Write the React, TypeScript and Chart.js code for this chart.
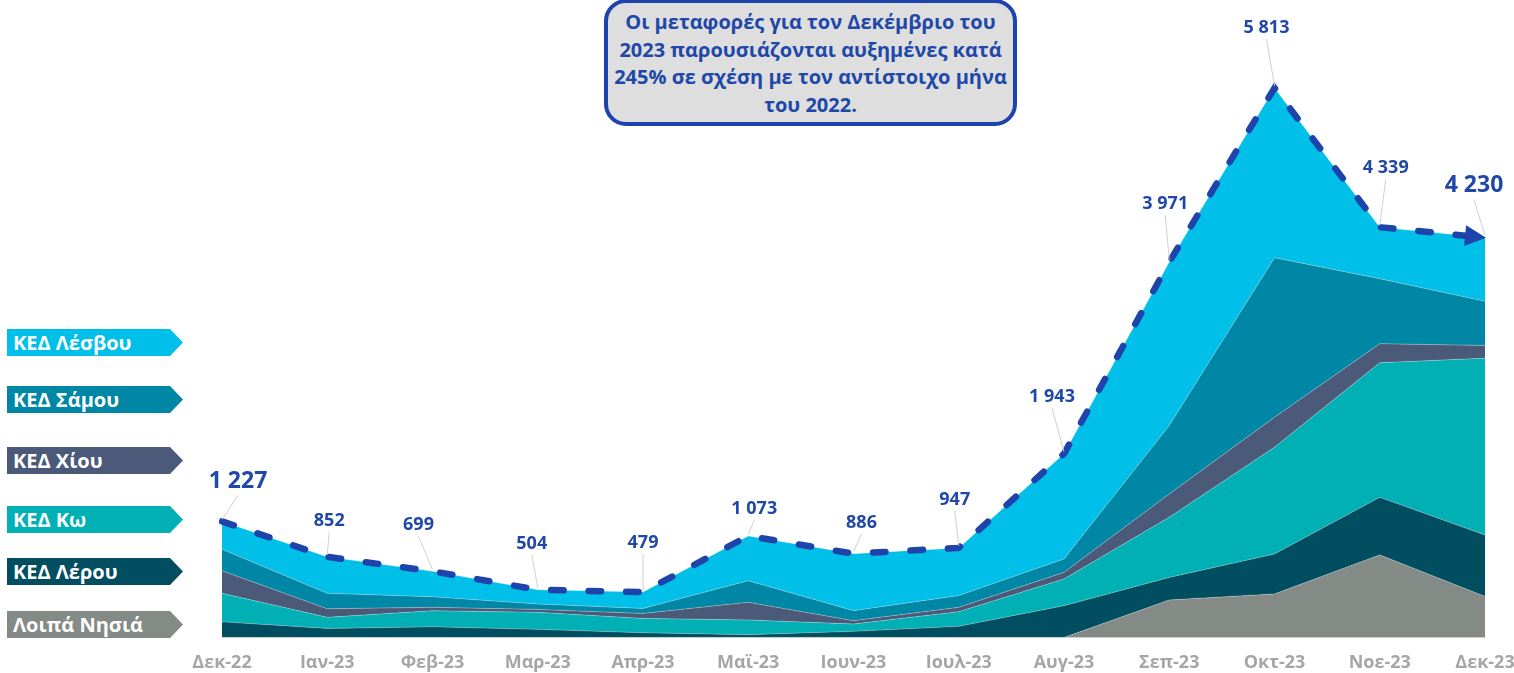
import React, { useEffect, useRef } from "react";
import { Chart, registerables } from "chart.js";
Chart.register(...registerables);

const months = ["Δεκ-22", "Ιαν-23", "Φεβ-23", "Μαρ-23", "Απρ-23", "Μαϊ-23", "Ιουν-23", "Ιουλ-23", "Αυγ-23", "Σεπ-23", "Οκτ-23", "Νοε-23", "Δεκ-23"];
const loipa = [0, 0, 0, 0, 0, 0, 0, 0, 0, 396, 460, 873, 434];
const lerou = [165, 95, 112, 85, 49, 29, 64, 117, 336, 239, 423, 609, 650];
const ko = [301, 117, 170, 180, 152, 155, 78, 155, 282, 636, 1129, 1424, 1870];
const chiou = [239, 91, 36, 31, 53, 187, 35, 46, 70, 247, 318, 201, 135];
const samou = [227, 163, 112, 57, 53, 229, 106, 124, 142, 724, 1687, 688, 466];
const lesvou = [295, 386, 269, 151, 172, 473, 603, 505, 1113, 1729, 1796, 544, 675];
const totals = [1227, 852, 699, 504, 479, 1073, 886, 947, 1943, 3971, 5813, 4339, 4230];

const seriesNames = ["Λοιπά Νησιά", "ΚΕΔ Λέρου", "ΚΕΔ Κω", "ΚΕΔ Χίου", "ΚΕΔ Σάμου", "ΚΕΔ Λέσβου"];
const seriesData = [loipa, lerou, ko, chiou, samou, lesvou];
const seriesColors = ["#848a85", "#004e60", "#00b0b4", "#4a5a78", "#0087a5", "#00bfe8"];

// legend tag layout (top -> bottom order)
const legendOrder = [5, 4, 3, 2, 1, 0];
const legendTops = [329, 386, 447, 506, 558, 611];

// label offsets (text centre relative to point), and big-label flags
const labelDx = [16, 2, -14, -6, 0, 6, 8, -4, -12, -4, -8, 6, -11];
const labelDy = [-40, -36, -46, -46, -49, -27, -31, -48, -57, -58, -60, -59, -52];
const bigLabel = [true, false, false, false, false, false, false, false, false, false, false, false, true];

const BLUE = "#1e44ab";
const FONT = "'Open Sans', sans-serif";

const fmt = (v: number) => String(v).replace(/\B(?=(\d{3})+(?!\d))/g, " ");

const totalsPlugin = {
  id: "totalsLabels",
  afterDatasetsDraw(chart: any) {
    const ctx = chart.ctx;
    const meta = chart.getDatasetMeta(6);
    const pts = meta.data;
    ctx.save();
    const n = pts.length;
    const a = pts[n - 2], b = pts[n - 1];
    const ang = Math.atan2(b.y - a.y, b.x - a.x);
    ctx.translate(b.x, b.y);
    ctx.rotate(ang);
    ctx.beginPath();
    ctx.moveTo(1, 0);
    ctx.lineTo(-20, -10.5);
    ctx.lineTo(-20, 10.5);
    ctx.closePath();
    ctx.fillStyle = BLUE;
    ctx.fill();
    ctx.restore();

    ctx.save();
    ctx.textAlign = "center";
    ctx.textBaseline = "middle";
    pts.forEach((p: any, i: number) => {
      const tx = p.x + labelDx[i];
      const ty = p.y + labelDy[i];
      const half = bigLabel[i] ? 14 : 11;
      ctx.strokeStyle = "#d0d0d0";
      ctx.lineWidth = 1;
      ctx.beginPath();
      ctx.moveTo(tx, ty + half);
      ctx.lineTo(p.x, p.y - 2);
      ctx.stroke();
      ctx.fillStyle = "#2048a8";
      ctx.font = `bold ${bigLabel[i] ? 23 : 18}px ${FONT}`;
      ctx.fillText(fmt(totals[i]), tx, ty);
    });
    ctx.restore();
  },
};

export default function App() {
  const ref = useRef<HTMLCanvasElement>(null);
  useEffect(() => {
    document.body.style.margin = "0";
    const datasets: any[] = seriesData.map((d, i) => ({
      label: seriesNames[i],
      data: d,
      backgroundColor: seriesColors[i],
      borderColor: "rgba(255,255,255,0.35)",
      borderWidth: 0.8,
      pointRadius: 0,
      tension: 0,
      fill: i === 0 ? "origin" : "-1",
      yAxisID: "y",
      order: 1,
    }));
    datasets.push({
      label: "Σύνολο",
      data: totals,
      borderColor: BLUE,
      borderWidth: 6.5,
      borderDash: [12.5, 25],
      borderCapStyle: "round",
      pointRadius: 0,
      tension: 0,
      fill: false,
      yAxisID: "y2",
      order: -1,
    });
    const chart = new Chart(ref.current!, {
      type: "line",
      data: { labels: months, datasets },
      options: {
        animation: false,
        responsive: false,
        devicePixelRatio: 1,
        layout: { padding: { left: 222, right: 70, top: 23, bottom: 0 } },
        plugins: { legend: { display: false }, tooltip: { enabled: false } },
        scales: {
          x: {
            offset: false,
            grid: { display: false, drawTicks: false },
            border: { display: true, color: "#d9d9d9", width: 1 },
            ticks: {
              color: "#a6a6a6",
              font: { family: FONT, size: 18, weight: "bold" },
              padding: 15,
              maxRotation: 0,
              autoSkip: false,
            },
          },
          y: { display: false, stacked: true, min: 0, max: 6500 },
          y2: { display: false, stacked: false, min: 0, max: 6500 },
        },
      },
      plugins: [totalsPlugin],
    } as any);
    return () => chart.destroy();
  }, []);

  return (
    <div style={{ position: "relative", width: 1514, height: 673, overflow: "hidden", fontFamily: FONT }}>
      <canvas ref={ref} width={1555} height={689} style={{ position: "absolute", left: 0, top: 0, width: 1555, height: 689 }} />
      <div
        style={{
          position: "absolute",
          left: 604,
          top: -1,
          width: 413,
          height: 127,
          boxSizing: "border-box",
          border: `4px solid ${BLUE}`,
          borderRadius: 22,
          background: "#dedede",
          color: "#2048a8",
          fontWeight: 700,
          fontSize: 20,
          lineHeight: "27.5px",
          textAlign: "center",
          paddingTop: 5,
          whiteSpace: "nowrap",
        }}
      >
        Οι μεταφορές για τον Δεκέμβριο του
        <br />
        2023 παρουσιάζονται αυξημένες κατά
        <br />
        245% σε σχέση με τον αντίστοιχο μήνα
        <br />
        του 2022.
      </div>
      {legendOrder.map((si, k) => (
        <div
          key={si}
          style={{
            position: "absolute",
            left: 7,
            top: legendTops[k],
            width: 176,
            height: 27,
            background: seriesColors[si],
            clipPath: "polygon(0 0, calc(100% - 13px) 0, 100% 50%, calc(100% - 13px) 100%, 0 100%)",
            color: "#ffffff",
            fontWeight: 700,
            fontSize: 20,
            lineHeight: "27px",
            paddingLeft: 6,
            boxSizing: "border-box",
            whiteSpace: "nowrap",
          }}
        >
          {seriesNames[si]}
        </div>
      ))}
    </div>
  );
}
